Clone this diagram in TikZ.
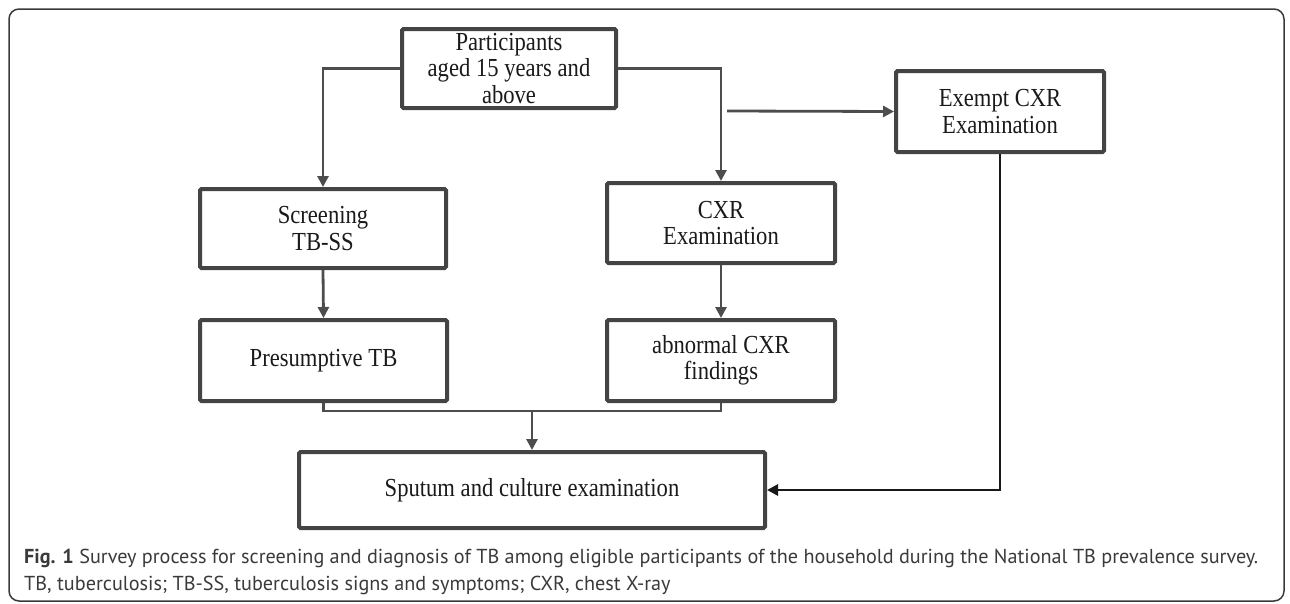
\documentclass[tikz,border=0pt]{standalone}
\usepackage{fontspec}
\setmainfont{Liberation Serif}
\newfontfamily\boxfont[FakeStretch=0.87]{Liberation Serif}
\newfontfamily\capfont{PT Sans}
\usetikzlibrary{arrows.meta}
\definecolor{boxc}{HTML}{444444}
\definecolor{arrc}{HTML}{4D4D4D}
\definecolor{txtc}{HTML}{1A1A1A}
\definecolor{capc}{HTML}{3A3A3A}
\begin{document}
\begin{tikzpicture}[x=1pt,y=-1pt,
  box/.style={draw=boxc, line width=4pt, rounded corners=1.5pt, fill=white,
    align=center, text=txtc, font=\boxfont\fontsize{26}{26.5}\selectfont, inner sep=0pt},
  arr/.style={draw=arrc, line width=2.8pt, -{Triangle[length=11pt,width=11pt]}},
  brk/.style={draw=arrc, line width=2.5pt},
  blk/.style={draw=black!90, line width=2.8pt, -{Triangle[length=11pt,width=11pt]}}]
\useasboundingbox (0,0) rectangle (1290,603);
\draw[draw=capc, line width=1.5pt, rounded corners=10pt] (9,9) rectangle (1284,601);

\node[box, minimum width=214pt, minimum height=79pt] (part) at (509,68.5) {Participants\\aged 15 years and\\above};
\node[box, minimum width=246pt, minimum height=79pt] (scr) at (323,228.5) {Screening\\TB-SS};
\node[box, minimum width=228pt, minimum height=80pt] (cxr) at (721,223) {CXR\\Examination};
\node[box, minimum width=208pt, minimum height=81pt] (exm) at (1000,111.5) {Exempt CXR\\Examination};
\node[box, minimum width=247pt, minimum height=81pt] (pre) at (323.5,360.5) {Presumptive TB};
\node[box, minimum width=228pt, minimum height=81pt] (abn) at (721,360.5) {abnormal CXR\\findings};
\node[box, minimum width=466pt, minimum height=76pt] (spu) at (532,490) {Sputum and culture examination};

\coordinate (es) at (727,111);
\coordinate (j) at (532,411);

\draw[arr] (part.west) -| (scr.north);
\draw[arr] (part.east) -| (cxr.north);
\draw[arr] (es) -- (exm.west);
\draw[arr] (scr.south) -- (pre.north);
\draw[arr] (cxr.south) -- (abn.north);
\draw[brk] (pre.south) -- (323.5,411) -- (721,411) -- (abn.south);
\draw[arr] (j) -- (spu.north);
\draw[blk] (exm.south) |- (spu.east);

\node[anchor=west, inner sep=0pt, align=left, text=capc,
  font=\capfont\fontsize{20.2}{27}\selectfont] (cap) at (24,571.5)
  {\textbf{Fig. 1} Survey process for screening and diagnosis of TB among eligible participants of the household during the National TB prevalence survey.\\
   TB, tuberculosis; TB-SS, tuberculosis signs and symptoms; CXR, chest X-ray};
\end{tikzpicture}
\end{document}
